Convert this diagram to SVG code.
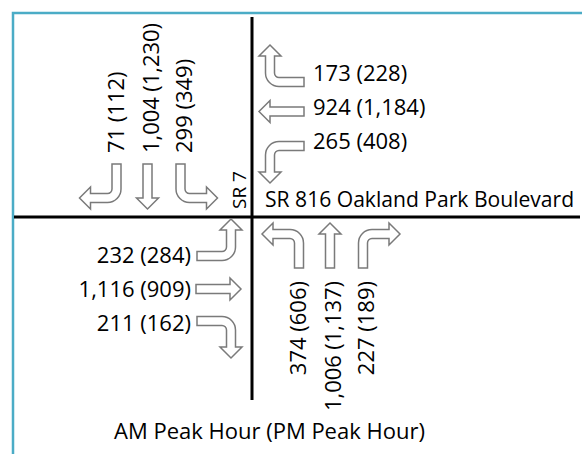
<svg xmlns="http://www.w3.org/2000/svg" xmlns:xlink="http://www.w3.org/1999/xlink" width="582" height="454" viewBox="0 0 582 454">
<style>
text{font-family:"Open Sans","Noto Sans","Liberation Sans",sans-serif;font-size:22px;fill:#000}
.road{stroke:#000;stroke-width:3;fill:none}
.arr{fill:#fff;stroke:#7a7a7a;stroke-width:1.5;stroke-linejoin:miter}
</style>
<defs>
<path id="thru" class="arr" d="M-4.5,0 L-4.5,-34 L-11,-34 L0,-45 L11,-34 L4.5,-34 L4.5,0 Z"/>
<path id="rturn" class="arr" d="M-4.5,0 L-4.5,-25 A13.5,13.5 0 0 1 9,-38.5 L26,-38.5 L26,-45 L37,-34 L26,-23 L26,-29.5 L9,-29.5 A4.5,4.5 0 0 0 4.5,-25 L4.5,0 Z"/>
</defs>
<rect x="13" y="13" width="620" height="520" fill="#fff" stroke="#4bacc6" stroke-width="2.5"/>
<g id="connectors">
<line class="road" x1="252" y1="17" x2="252" y2="400"/>
<line class="road" x1="14" y1="217" x2="580" y2="217"/>
</g>
<g id="southbound">
<use xlink:href="#rturn" transform="translate(116.5,164) rotate(180)"/>
<use xlink:href="#thru" transform="translate(147.5,164) rotate(180)"/>
<use xlink:href="#rturn" transform="translate(180.5,164) rotate(180) scale(-1,1)"/>
<text transform="translate(124,153) rotate(-90)">71 (112)</text>
<text transform="translate(158.5,153) rotate(-90)" textLength="130" lengthAdjust="spacing">1,004 (1,230)</text>
<text transform="translate(192,153) rotate(-90)">299 (349)</text>
</g>
<g id="westbound">
<use xlink:href="#rturn" transform="translate(304,82) rotate(-90)"/>
<use xlink:href="#thru" transform="translate(304,111.5) rotate(-90)"/>
<use xlink:href="#rturn" transform="translate(304,146) rotate(-90) scale(-1,1)"/>
<text x="313" y="81">173 (228)</text>
<text x="313" y="115">924 (1,184)</text>
<text x="313" y="149">265 (408)</text>
</g>
<g id="northbound">
<use xlink:href="#rturn" transform="translate(299,268) scale(-1,1)"/>
<use xlink:href="#thru" transform="translate(330,268)"/>
<use xlink:href="#rturn" transform="translate(363,268)"/>
<text transform="translate(306,281) rotate(-90)" text-anchor="end">374 (606)</text>
<text transform="translate(340.5,281) rotate(-90)" text-anchor="end" textLength="130" lengthAdjust="spacing">1,006 (1,137)</text>
<text transform="translate(373.5,281) rotate(-90)" text-anchor="end">227 (189)</text>
</g>
<g id="eastbound">
<use xlink:href="#rturn" transform="translate(197,256) rotate(90) scale(-1,1)"/>
<use xlink:href="#thru" transform="translate(196,289) rotate(90)"/>
<use xlink:href="#rturn" transform="translate(197,321) rotate(90)"/>
<text x="191" y="263" text-anchor="end">232 (284)</text>
<text x="191" y="297" text-anchor="end">1,116 (909)</text>
<text x="191" y="331" text-anchor="end">211 (162)</text>
</g>
<g id="labels">
<text transform="translate(246,209) rotate(-90)" style="font-size:19px">SR 7</text>
<text x="265" y="207" style="font-size:21.1px">SR 816 Oakland Park Boulevard</text>
<text x="114" y="439">AM Peak Hour (PM Peak Hour)</text>
</g>
</svg>
